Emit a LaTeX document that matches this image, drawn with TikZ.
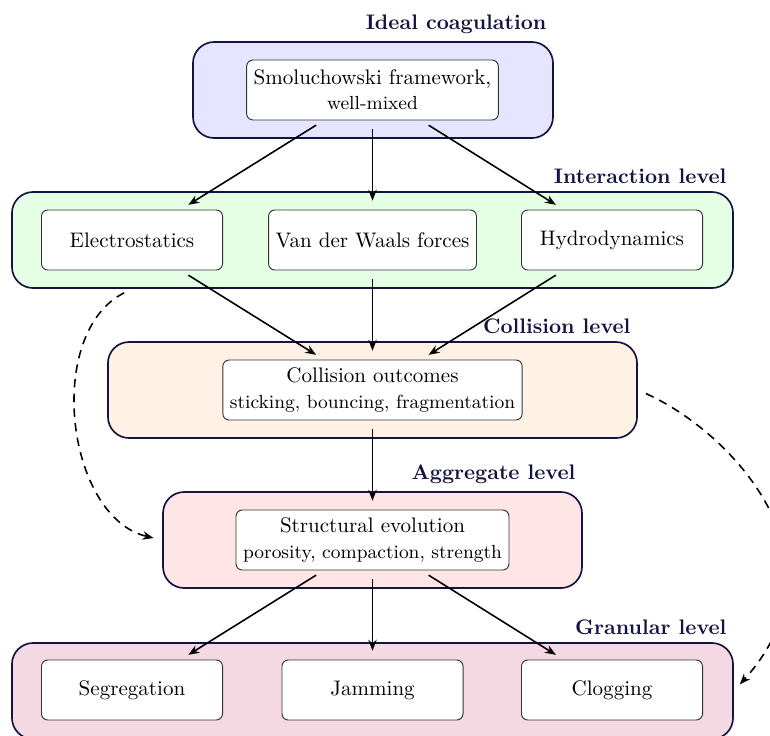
\documentclass[tikz,border=0pt]{standalone}
\usetikzlibrary{arrows.meta}
\definecolor{navy}{RGB}{20,20,66}
\begin{document}
\begin{tikzpicture}[x=0.475pt,y=0.475pt,
  levelbox/.style={draw=navy, line width=0.8pt, rounded corners=10pt, minimum height=45.6pt, inner sep=0pt},
  lvllabel/.style={label={[anchor=south east, font=\bfseries, text=navy]north east:#1}},
  inbox/.style={draw=black!80, fill=white, line width=0.45pt, rounded corners=3pt, minimum width=86pt, minimum height=28.5pt, align=center},
  arr/.style={-{Stealth[length=5.2pt,width=4pt]}, line width=0.75pt, shorten >=4.2pt, shorten <=4.2pt},
  darr/.style={arr, dash pattern=on 4pt off 3pt}
]
\useasboundingbox (0,0) rectangle (770,-735);
% level boxes
\node[levelbox, fill=blue!10, minimum width=171pt, lvllabel=Ideal coagulation] (ideal) at (373,-90) {};
\node[levelbox, fill=green!10, minimum width=342.5pt, lvllabel=Interaction level] (inter) at (372.5,-240) {};
\node[levelbox, fill=orange!10, minimum width=251.3pt, lvllabel=Collision level] (coll) at (372.5,-390) {};
\node[levelbox, fill=red!10, minimum width=199pt, lvllabel=Aggregate level] (agg) at (372.5,-540) {};
\node[levelbox, fill=purple!15, minimum width=342.5pt, lvllabel=Granular level] (gran) at (372.5,-691) {};
% inner nodes
\node[inbox] (smol) at (372.5,-90) {Smoluchowski framework,\\{\small well-mixed}};
\node[inbox] (elec) at (132,-240) {Electrostatics};
\node[inbox] (vdw) at (372.5,-240) {Van der Waals forces};
\node[inbox] (hydro) at (612,-240) {Hydrodynamics};
\node[inbox] (outc) at (372.5,-390) {Collision outcomes\\{\small sticking, bouncing, fragmentation}};
\node[inbox] (struct) at (372.5,-540) {Structural evolution\\{\small porosity, compaction, strength}};
\node[inbox] (seg) at (132,-690) {Segregation};
\node[inbox] (jam) at (372.5,-690) {Jamming};
\node[inbox] (clog) at (612,-690) {Clogging};
% arrows
\draw[arr] (smol) -- (elec);
\draw[arr] (smol) -- (vdw);
\draw[arr] (smol) -- (hydro);
\draw[arr] (elec) -- (outc);
\draw[arr] (vdw) -- (outc);
\draw[arr] (hydro) -- (outc);
\draw[arr] (outc) -- (struct);
\draw[arr] (struct) -- (seg);
\draw[arr] (struct) -- (jam);
\draw[arr] (struct) -- (clog);
% dashed feedback
\draw[darr] (inter.south -| elec) to[bend right=70] (agg.west);
\draw[darr] (coll.east) .. controls +(-24:100) and +(48:178) .. (gran.east);
\end{tikzpicture}
\end{document}
